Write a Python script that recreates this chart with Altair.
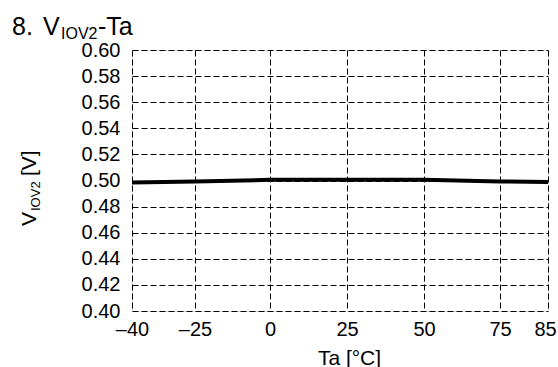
import altair as alt
import pandas as pd

# Data
ta = [-40, -25, 0, 25, 50, 75, 85]
v_iov2 = [0.4984, 0.4993, 0.5005, 0.5005, 0.5005, 0.4993, 0.4988]
x_ticks = [-40, -25, 0, 25, 50, 75, 85]
y_ticks = [0.40, 0.42, 0.44, 0.46, 0.48, 0.50, 0.52, 0.54, 0.56, 0.58, 0.60]

df = pd.DataFrame({"ta": ta, "v": v_iov2})

FONT = "Liberation Sans"
W, H = 416, 261

# The reference axis is drawn with unequal spacing between tick positions
x_scale = alt.Scale(domain=x_ticks, range=[0, 63, 138, 215, 292, 368, W],
                    nice=False, zero=False)
y_scale = alt.Scale(domain=[0.40, 0.60], nice=False, zero=False)

line = alt.Chart(df).mark_line(color="black", strokeWidth=4).encode(
    x=alt.X("ta:Q", scale=x_scale,
            axis=alt.Axis(values=x_ticks, title="Ta [°C]", grid=True,
                          gridDash=[6, 3], gridColor="black", gridOpacity=1, gridWidth=1,
                          domain=False, ticks=False, labelPadding=8,
                          labelFont=FONT, labelFontSize=20, labelColor="black",
                          labelExpr="datum.value < 0 ? '–' + format(-datum.value, 'd') : format(datum.value, 'd')",
                          labelOffset={"condition": {"test": "datum.value == 85", "value": -3}, "value": 0},
                          labelFlush=False, labelOverlap=False,
                          titleFont=FONT, titleFontSize=21, titleFontWeight="normal",
                          titleColor="black", titleBaseline="alphabetic",
                          titleX=217, titleY=53, titleAnchor="middle", titleAlign="center")),
    y=alt.Y("v:Q", scale=y_scale,
            axis=alt.Axis(values=y_ticks, title=None, format=".2f", grid=True,
                          gridDash=[6, 3], gridColor="black", gridOpacity=1, gridWidth=1,
                          domain=False, ticks=False, labelPadding=12,
                          labelFont=FONT, labelFontSize=20, labelColor="black",
                          labelFlush=False, labelOverlap=False)),
)

def txt(t, x, y, size, angle=None):
    kw = dict(text=t, font=FONT, fontSize=size, color="black", align="left",
              baseline="alphabetic")
    if angle is not None:
        kw["angle"] = angle
    return alt.Chart(pd.DataFrame({"a": [0]})).mark_text(**kw).encode(
        x=alt.value(x), y=alt.value(y))

title_parts = [
    txt("8.", -120, -15, 25),
    txt("V", -89, -15, 25),
    txt("IOV2", -71, -11, 16),
    txt("-Ta", -34, -15, 25),
]
ytitle_parts = [
    txt("V", -96, 176, 21, 270),
    txt("IOV2", -92, 161, 13, 270),
    txt("[V]", -96, 126, 21, 270),
]

chart = alt.layer(line, *title_parts, *ytitle_parts).properties(
    width=W, height=H,
    autosize=alt.AutoSizeParams(type="none"),
    padding={"left": 132, "top": 50, "right": 10, "bottom": 56},
).configure_view(stroke="black", strokeWidth=2).configure(background="white")

chart.save("out.html", embed_options={"renderer": "svg", "actions": False})
